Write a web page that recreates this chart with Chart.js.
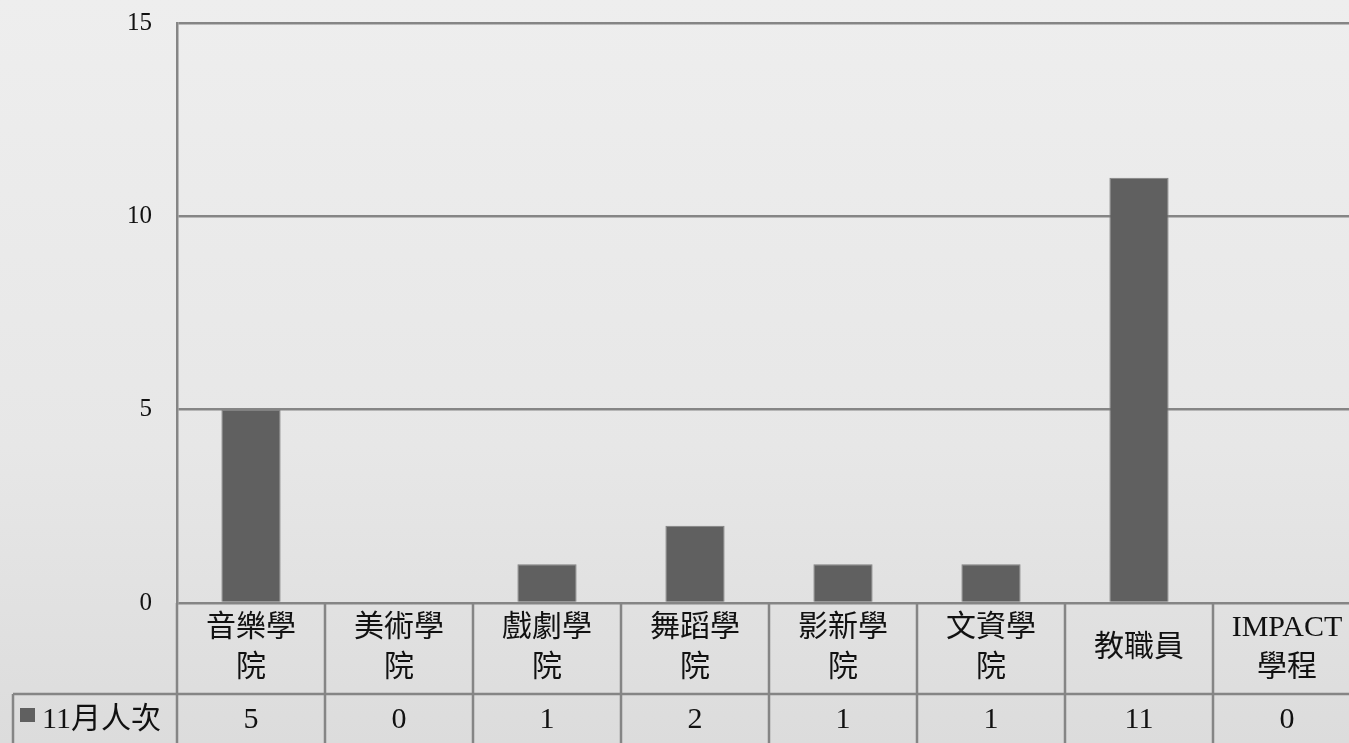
<!DOCTYPE html>
<html>
<head>
<meta charset="utf-8">
<script src="https://cdn.jsdelivr.net/npm/chart.js@4"></script>
<style>
  html, body { margin:0; padding:0; overflow:hidden; }
  body {
    width:1349px; height:743px;
    background: linear-gradient(180deg, #eeeeee 0%, #e7e7e7 60%, #dcdcdc 100%);
  }
  canvas { display:block; }
</style>
</head>
<body>
<canvas id="c" width="1370" height="760"></canvas>
<script>
// categories, split into the lines shown in the table header cells
const categoryLines = [
  ['音樂學', '院'],
  ['美術學', '院'],
  ['戲劇學', '院'],
  ['舞蹈學', '院'],
  ['影新學', '院'],
  ['文資學', '院'],
  ['教職員'],
  ['IMPACT', '學程'],
];
const seriesName = '11月人次';
const seriesValues = [5, 0, 1, 2, 1, 1, 11, 0];
const yTicks = [0, 5, 10, 15];

const LINE = '#858585';
const FONT = '"Liberation Serif", "Noto Sans CJK TC", serif';

// data table drawn under the plot, using the x scale for the columns
const dataTable = {
  id: 'dataTable',
  afterDraw(chart) {
    const { ctx, chartArea: ca, scales: { x } } = chart;
    const n = categoryLines.length;
    const colW = (x.right - x.left) / n;
    const rowTop = ca.bottom;
    const rowMid = rowTop + 91;
    const bottom = chart.height;
    const keyLeft = 13;

    ctx.save();
    ctx.strokeStyle = LINE;
    ctx.lineWidth = 2.5;
    ctx.beginPath();
    for (let i = 0; i <= n; i++) {
      const px = x.getPixelForValue(i) - colW / 2;
      ctx.moveTo(px, rowTop);
      ctx.lineTo(px, bottom);
    }
    ctx.moveTo(keyLeft, rowMid);
    ctx.lineTo(ca.right, rowMid);
    ctx.moveTo(keyLeft, rowMid);
    ctx.lineTo(keyLeft, bottom);
    ctx.stroke();

    ctx.fillStyle = '#111';
    ctx.textAlign = 'center';
    ctx.textBaseline = 'middle';
    ctx.font = '30px ' + FONT;
    categoryLines.forEach((lines, i) => {
      const cx = x.getPixelForValue(i);
      const cy = (rowTop + rowMid) / 2;
      lines.forEach((t, k) => {
        const ly = cy + (k - (lines.length - 1) / 2) * 40;
        ctx.fillText(t, cx, ly);
      });
      ctx.fillText(String(seriesValues[i]), cx, rowMid + 26);
    });

    // legend key
    ctx.fillStyle = '#606060';
    ctx.fillRect(20, rowMid + 14, 15, 14);
    ctx.fillStyle = '#111';
    ctx.textAlign = 'left';
    ctx.fillText(seriesName, 42, rowMid + 26);
    ctx.restore();
  }
};

new Chart(document.getElementById('c'), {
  type: 'bar',
  data: {
    labels: categoryLines.map(l => l.join('')),
    datasets: [{
      label: seriesName,
      data: seriesValues,
      backgroundColor: '#606060',
      borderColor: '#808080',
      borderWidth: 1,
      barPercentage: 0.4,
      categoryPercentage: 1,
    }]
  },
  options: {
    responsive: false,
    animation: false,
    layout: { padding: { top: 23, right: 9, bottom: 157, left: 0 } },
    plugins: { legend: { display: false }, tooltip: { enabled: false } },
    scales: {
      x: { display: false },
      y: {
        min: 0, max: 15,
        afterFit: s => { s.width = 177; s.paddingTop = 0; s.paddingBottom = 0; },
        afterBuildTicks: s => { s.ticks = yTicks.map(v => ({ value: v })); },
        border: { color: LINE, width: 2.5 },
        grid: { color: LINE, lineWidth: 2.5, drawTicks: false },
        ticks: { color: '#111', padding: 25, font: { family: FONT, size: 25 } },
      }
    }
  },
  plugins: [dataTable]
});
</script>
</body>
</html>
